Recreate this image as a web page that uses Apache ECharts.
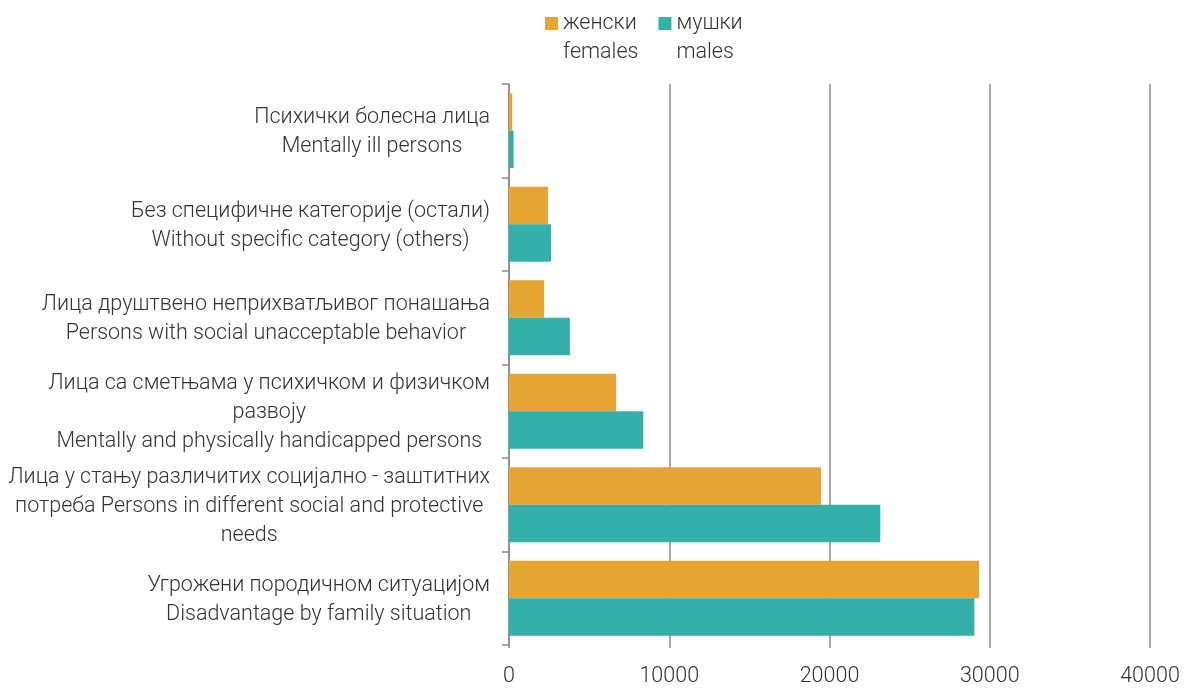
<!DOCTYPE html>
<html>
<head>
<meta charset="utf-8">
<script src="https://cdn.jsdelivr.net/npm/echarts@6/dist/echarts.min.js"></script>
<style>
html,body{margin:0;padding:0;background:#fff;}
#c{width:1185px;height:688px;}
</style>
</head>
<body>
<div id="c"></div>
<script>
const categories = [
  "Психички болесна лица\nMentally ill persons",
  "Без специфичне категорије (остали)\nWithout specific category (others)",
  "Лица друштвено неприхватљивог понашања\nPersons with social unacceptable behavior",
  "Лица са сметњама у психичком и физичком\nразвоју\nMentally and physically handicapped persons",
  "Лица у стању различитих социјално - заштитних\nпотреба Persons in different social and protective\nneeds",
  "Угрожени породичном ситуацијом\nDisadvantage by family situation"
];
const seriesNames = ["женски\nfemales", "мушки\nmales"];
const females = [200, 2430, 2190, 6680, 19470, 29330];
const males = [290, 2620, 3800, 8380, 23170, 29040];
const xTicks = { min: 0, max: 40000, interval: 10000 };

const FONT = 'Roboto';
const FS = 21.5;
const TXT = '#333333';
const chart = echarts.init(document.getElementById('c'));
chart.setOption({
  animation: false,
  color: ['#E6A532', '#35AFA9'],
  legend: {
    left: 545,
    top: -20,
    padding: 0,
    itemWidth: 13,
    itemHeight: 13,
    itemGap: 20,
    icon: 'rect',
    data: seriesNames,
    formatter: function (name) { return ' \n' + name; },
    textStyle: {
      fontFamily: FONT,
      fontWeight: 300,
      fontSize: FS,
      color: TXT,
      lineHeight: 29
    }
  },
  grid: { left: 509, right: 35, top: 84, bottom: 40, containLabel: false },
  xAxis: {
    type: 'value',
    min: xTicks.min, max: xTicks.max, interval: xTicks.interval,
    axisLine: { show: false },
    axisTick: { show: true, length: 3, lineStyle: { color: '#8c8c8c', width: 1.5 } },
    splitLine: { show: true, lineStyle: { color: '#8c8c8c', width: 1.5 } },
    axisLabel: {
      fontFamily: FONT, fontWeight: 300, fontSize: FS, color: TXT, margin: 21,
      formatter: function (v) { return String(v); }
    }
  },
  yAxis: {
    type: 'category',
    inverse: true,
    data: categories,
    axisLine: { show: true, lineStyle: { color: '#8c8c8c', width: 1.5 } },
    axisTick: { show: true, length: 7, lineStyle: { color: '#8c8c8c', width: 1.5 } },
    axisLabel: {
      margin: 19,
      padding: [3, 0, 0, 0],
      formatter: function (v) {
        return v.split('\n').map(function (s) { return '{a|' + s + '}'; }).join('\n');
      },
      rich: {
        a: { fontFamily: FONT, fontWeight: 300, fontSize: FS, color: TXT, lineHeight: 29, align: 'center' }
      }
    }
  },
  series: [
    { name: seriesNames[0], type: 'bar', data: females, barGap: '0%', barCategoryGap: '20%' },
    { name: seriesNames[1], type: 'bar', data: males, barGap: '0%', barCategoryGap: '20%' }
  ]
});
</script>
</body>
</html>
